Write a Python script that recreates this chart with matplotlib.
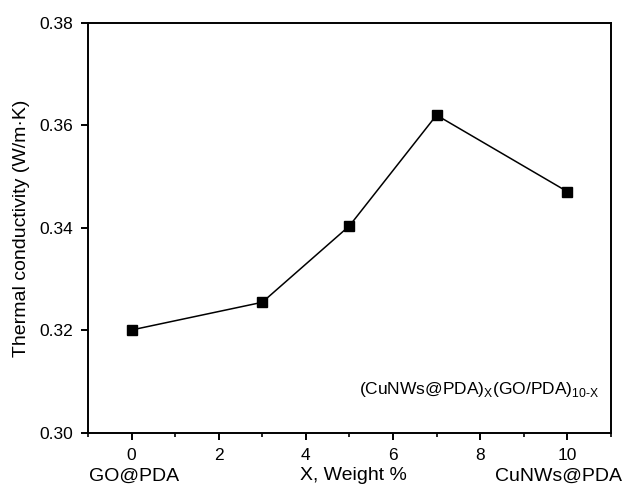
import matplotlib
matplotlib.use("Agg")
import matplotlib.pyplot as plt
from matplotlib.ticker import MultipleLocator

# data
weight_x = [0, 3, 5, 7, 10]
conductivity = [0.3201, 0.3255, 0.3404, 0.3620, 0.3471]
x_ticks = [0, 2, 4, 6, 8, 10]
y_ticks = [0.30, 0.32, 0.34, 0.36, 0.38]
captions = ['GO@PDA', 'X, Weight %', 'CuNWs@PDA']

plt.rcParams['font.family'] = ['Liberation Sans', 'DejaVu Sans']
plt.rcParams['mathtext.fontset'] = 'custom'
plt.rcParams['mathtext.rm'] = 'Liberation Sans'

fig = plt.figure(figsize=(6.29, 4.86), dpi=100)
ax = fig.add_axes([0.140, 0.109, 0.831, 0.844])

ax.plot(weight_x, conductivity, color='black', lw=1.1,
        marker='s', markersize=6.5, markerfacecolor='black', markeredgecolor='black')

ax.set_xlim(-1, 11)
ax.set_ylim(0.30, 0.38)
ax.set_xticks(x_ticks)
ax.set_yticks(y_ticks)
ax.set_yticklabels([f"{v:.2f}" for v in y_ticks])
ax.xaxis.set_minor_locator(MultipleLocator(1))

for sp in ax.spines.values():
    sp.set_linewidth(1.4)
ax.tick_params(axis='both', which='major', direction='out', length=5, width=1.4,
               pad=5.5, labelsize=12.5, top=False, right=False)
ax.tick_params(axis='x', which='minor', direction='out', length=3, width=1.2,
               top=False)

ax.set_ylabel('Thermal conductivity (W/m·K)', fontsize=14, labelpad=7)

# x-axis captions below tick labels
for xv, cap in zip([0.05, 5.1, 9.8], captions):
    ax.text(xv, -0.084, cap, transform=ax.get_xaxis_transform(),
            ha='center', va='top', fontsize=14)

ax.text(0.979, 0.082,
        r'(CuNWs@PDA)$_\mathregular{X}$(GO/PDA)$_\mathregular{10\text{-}X}$',
        transform=ax.transAxes, ha='right', va='bottom', fontsize=12.5)

fig.savefig('out.png', dpi=100)
